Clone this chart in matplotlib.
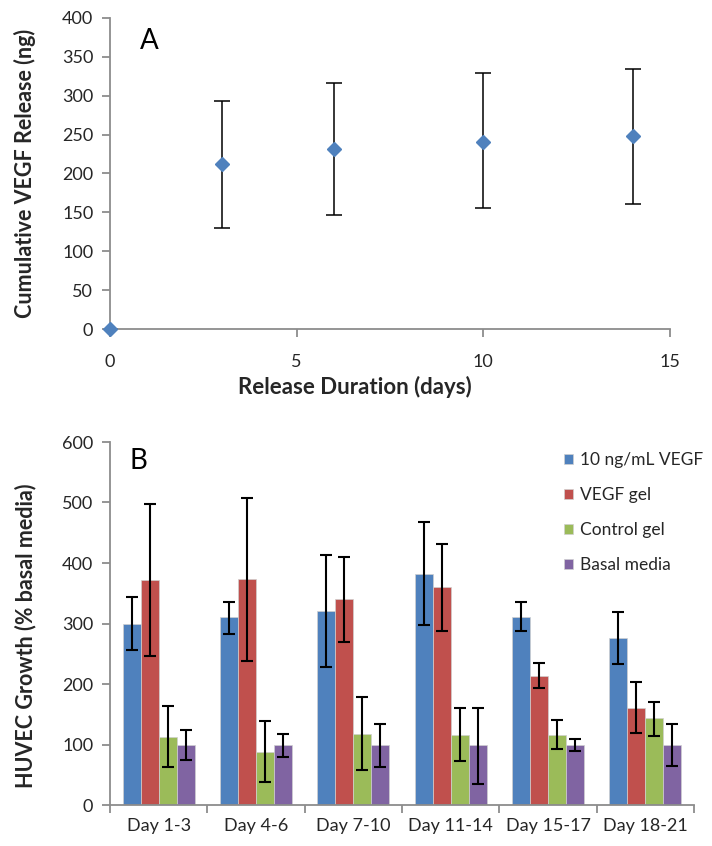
import matplotlib
matplotlib.use("Agg")
import matplotlib.pyplot as plt
import numpy as np

plt.rcParams['font.family'] = ['Lato', 'DejaVu Sans']

# Panel A: cumulative VEGF release
days = [0, 3, 6, 10, 14]
release = [0, 212, 231, 241, 248]
release_lo = [0, 130, 146, 155, 161]
release_hi = [0, 293, 317, 329, 335]

# Panel B: HUVEC growth
periods = ["Day 1-3", "Day 4-6", "Day 7-10", "Day 11-14", "Day 15-17", "Day 18-21"]
groups = ["10 ng/mL VEGF", "VEGF gel", "Control gel", "Basal media"]
growth = {
    "10 ng/mL VEGF": [300, 310, 320, 381, 310, 276],
    "VEGF gel":      [372, 374, 340, 360, 214, 160],
    "Control gel":   [113, 88, 118, 116, 116, 143],
    "Basal media":   [100, 100, 100, 100, 100, 100],
}
growth_lo = {
    "10 ng/mL VEGF": [257, 282, 228, 297, 287, 233],
    "VEGF gel":      [247, 238, 270, 287, 193, 119],
    "Control gel":   [62, 38, 58, 72, 92, 114],
    "Basal media":   [75, 80, 63, 35, 89, 65],
}
growth_hi = {
    "10 ng/mL VEGF": [344, 336, 413, 467, 336, 319],
    "VEGF gel":      [497, 508, 410, 432, 235, 203],
    "Control gel":   [164, 139, 179, 161, 141, 170],
    "Basal media":   [124, 117, 134, 161, 109, 134],
}
colors = ["#4F81BD", "#C0504D", "#9BBB59", "#8064A2"]

spine_c = "#8C8C8C"
text_c = "#262626"

fig = plt.figure(figsize=(7.12, 8.46), dpi=100)

def style(ax):
    for s in ["top", "right"]:
        ax.spines[s].set_visible(False)
    for s in ["left", "bottom"]:
        ax.spines[s].set_color(spine_c)
        ax.spines[s].set_linewidth(1.3)
    ax.tick_params(colors=spine_c, labelcolor=text_c, labelsize=13,
                   direction="out", length=6, width=1.3)
    ax.tick_params(axis="y", pad=6)

# ---- Panel A ----
axA = fig.add_axes([110 / 712, 1 - 329 / 846, 560 / 712, 311 / 846])
style(axA)
r = np.array(release)
yerr = [r - np.array(release_lo), np.array(release_hi) - r]
axA.errorbar(days, release, yerr=yerr, fmt="none", ecolor="black",
             elinewidth=1.1, capsize=5.8, capthick=1.1, zorder=2)
axA.plot(days, release, linestyle="none", marker="D", markersize=7.5,
         color="#4F81BD", markeredgecolor="#4F81BD", zorder=3, clip_on=False)
axA.set_xlim(0, 15)
axA.set_ylim(0, 400)
axA.set_xticks([0, 5, 10, 15])
axA.set_yticks(np.arange(0, 401, 50))
axA.tick_params(axis="x", pad=12)
axA.set_xlabel("Release Duration (days)", fontsize=16, fontweight="bold",
               color=text_c, va="center")
axA.xaxis.set_label_coords(0.4375, -0.1865)
axA.set_ylabel("Cumulative VEGF Release (ng)", fontsize=15.5,
               fontweight="bold", color=text_c, va="center")
axA.yaxis.set_label_coords(-0.152, 0.5)
axA.text(0.054, 0.968, "A", transform=axA.transAxes, fontsize=20,
         color="black", va="top", ha="left")

# ---- Panel B ----
axB = fig.add_axes([110 / 712, 1 - 805 / 846, 584 / 712, 363 / 846])
style(axB)
x = np.arange(len(periods))
w = 0.185
offsets = (np.arange(len(groups)) - 1.5) * w
for g, c, off in zip(groups, colors, offsets):
    v = np.array(growth[g])
    err = [v - np.array(growth_lo[g]), np.array(growth_hi[g]) - v]
    axB.bar(x + off, v, width=w, color=c, edgecolor="#D0D0D0", linewidth=0.5,
            label=g, zorder=2)
    axB.errorbar(x + off, v, yerr=err, fmt="none", ecolor="black",
                 elinewidth=1.5, capsize=4.3, capthick=1.5, zorder=3)
axB.set_xlim(-0.5, len(periods) - 0.5)
axB.set_ylim(0, 600)
axB.set_yticks(np.arange(0, 601, 100))
axB.set_xticks(np.arange(-0.5, len(periods)), minor=False)
axB.set_xticklabels([])
axB.set_xticks(x, minor=True)
axB.set_xticklabels(periods, minor=True, fontsize=13, color=text_c)
axB.tick_params(axis="x", which="minor", length=0, pad=9)
axB.set_ylabel("HUVEC Growth (% basal media)", fontsize=15.5,
               fontweight="bold", color=text_c, va="center")
axB.yaxis.set_label_coords(-0.1455, 0.466)
axB.text(0.034, 0.983, "B", transform=axB.transAxes, fontsize=20,
         color="black", va="top", ha="left")
fig.legend(*axB.get_legend_handles_labels(), loc="upper left",
           bbox_to_anchor=(564 / 712, 1 - 452 / 846), frameon=False,
           fontsize=12.5, handlelength=0.5, handleheight=0.5,
           handletextpad=0.4, labelspacing=1.1, borderaxespad=0,
           borderpad=0, labelcolor=text_c)

fig.savefig("out.png", dpi=100)
